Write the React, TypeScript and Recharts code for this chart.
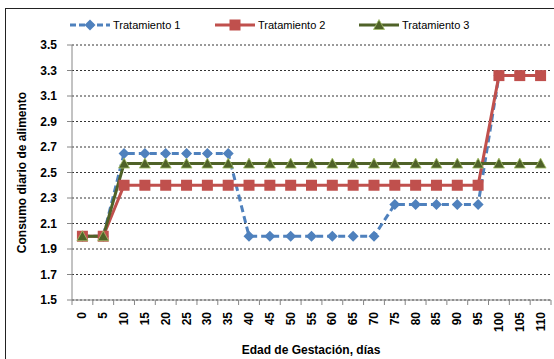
import React from "react";
import { LineChart, Line, XAxis, YAxis, CartesianGrid } from "recharts";

// Gestation age (days) and daily feed intake per treatment
const days = ["0", "5", "10", "15", "20", "25", "30", "35", "40", "45", "50", "55", "60", "65", "70", "75", "80", "85", "90", "95", "100", "105", "110"];
const tratamiento1 = [2.0, 2.0, 2.65, 2.65, 2.65, 2.65, 2.65, 2.65, 2.0, 2.0, 2.0, 2.0, 2.0, 2.0, 2.0, 2.25, 2.25, 2.25, 2.25, 2.25, 3.26, 3.26, 3.26];
const tratamiento2 = [2.0, 2.0, 2.4, 2.4, 2.4, 2.4, 2.4, 2.4, 2.4, 2.4, 2.4, 2.4, 2.4, 2.4, 2.4, 2.4, 2.4, 2.4, 2.4, 2.4, 3.26, 3.26, 3.26];
const tratamiento3 = [2.0, 2.0, 2.57, 2.57, 2.57, 2.57, 2.57, 2.57, 2.57, 2.57, 2.57, 2.57, 2.57, 2.57, 2.57, 2.57, 2.57, 2.57, 2.57, 2.57, 2.57, 2.57, 2.57];
const yTicks = [1.5, 1.7, 1.9, 2.1, 2.3, 2.5, 2.7, 2.9, 3.1, 3.3, 3.5];

const data = days.map((d, i) => ({
  dia: d,
  t1: tratamiento1[i],
  t2: tratamiento2[i],
  t3: tratamiento3[i],
}));

const W = 554;
const H = 359;
const PLOT_LEFT = 72;
const PLOT_RIGHT = 551;
const PLOT_TOP = 45;
const PLOT_BOTTOM = 300;
const BAND = (PLOT_RIGHT - PLOT_LEFT) / days.length;

const FONT = "'Liberation Sans', Arial, sans-serif";
const BLUE = "#4F81BD";
const RED = "#C0504D";
const GREEN = "#4F6228";

const Diamond = ({ cx, cy }: any) => (
  <polygon points={`${cx},${cy - 5.5} ${cx + 5.5},${cy} ${cx},${cy + 5.5} ${cx - 5.5},${cy}`} fill={BLUE} />
);
const Square = ({ cx, cy }: any) => (
  <rect x={cx - 5.5} y={cy - 5.5} width={11} height={11} fill={RED} />
);
const Triangle = ({ cx, cy }: any) => (
  <polygon
    points={`${cx},${cy - 5.5} ${cx + 5.5},${cy + 4.5} ${cx - 5.5},${cy + 4.5}`}
    fill={GREEN}
    stroke="#A6C26A"
    strokeWidth={0.8}
  />
);

// labels rotated, top-aligned, with tick marks on the category boundaries
const DayTick = ({ x, y, payload, index }: any) => (
  <g>
    <line x1={x - BAND / 2} y1={y - 8} x2={x - BAND / 2} y2={y - 3} stroke="#868686" />
    {index === days.length - 1 && (
      <line x1={x + BAND / 2} y1={y - 8} x2={x + BAND / 2} y2={y - 3} stroke="#868686" />
    )}
    <text
      x={x}
      y={y + 4}
      transform={`rotate(-90, ${x}, ${y + 4})`}
      textAnchor="end"
      dominantBaseline="central"
      fontFamily={FONT}
      fontWeight="bold"
      fontSize={12}
      fill="#000"
    >
      {payload.value}
    </text>
  </g>
);

function Legend() {
  const items = [
    { name: "Tratamiento 1", color: BLUE, x: 70, dash: "6 3", mark: "d" },
    { name: "Tratamiento 2", color: RED, x: 215, dash: undefined, mark: "s" },
    { name: "Tratamiento 3", color: GREEN, x: 359, dash: undefined, mark: "t" },
  ];
  const y = 25;
  return (
    <g>
      {items.map((it) => {
        const cx = it.x + 20;
        return (
          <g key={it.name}>
            <line x1={it.x} y1={y} x2={it.x + 40} y2={y} stroke={it.color} strokeWidth={3} strokeDasharray={it.dash} />
            {it.mark === "d" && <Diamond cx={cx} cy={y} />}
            {it.mark === "s" && <Square cx={cx} cy={y} />}
            {it.mark === "t" && <Triangle cx={cx} cy={y} />}
            <text x={it.x + 43} y={y} dominantBaseline="central" fontFamily={FONT} fontSize={11} fill="#000">
              {it.name}
            </text>
          </g>
        );
      })}
    </g>
  );
}

export default function App() {
  return (
    <div style={{ position: "absolute", left: 0, top: 0, width: W, height: H, overflow: "hidden", background: "#fff" }}>
      <div
        style={{
          position: "absolute",
          left: 5,
          top: 8,
          width: 600,
          height: 400,
          borderLeft: "1.5px solid #222",
          borderTop: "1.5px solid #222",
        }}
      />
      <LineChart
        width={W}
        height={H}
        data={data}
        margin={{ top: PLOT_TOP, right: W - PLOT_RIGHT, bottom: 0, left: 0 }}
        style={{ position: "absolute", left: 0, top: 0 }}
      >
        <CartesianGrid vertical={false} stroke="#000" strokeDasharray="2 2" strokeWidth={0.8} />
        <XAxis
          dataKey="dia"
          interval={0}
          height={H - PLOT_BOTTOM}
          padding={{ left: BAND / 2, right: BAND / 2 }}
          axisLine={{ stroke: "#868686" }}
          tickLine={false}
          tick={<DayTick />}
        />
        <YAxis
          width={PLOT_LEFT}
          domain={[1.5, 3.5]}
          ticks={yTicks}
          interval={0}
          tickFormatter={(v: number) => v.toFixed(1)}
          axisLine={{ stroke: "#868686" }}
          tickLine={{ stroke: "#868686" }}
          tickSize={5}
          tickMargin={10}
          tick={{ fontFamily: FONT, fontWeight: "bold", fontSize: 12, fill: "#000" }}
        />
        <Line dataKey="t1" stroke={BLUE} strokeWidth={3} strokeDasharray="7 4" dot={<Diamond />} activeDot={false} isAnimationActive={false} />
        <Line dataKey="t2" stroke={RED} strokeWidth={3} dot={<Square />} activeDot={false} isAnimationActive={false} />
        <Line dataKey="t3" stroke={GREEN} strokeWidth={3} dot={<Triangle />} activeDot={false} isAnimationActive={false} />
        <Legend />
        <text
          x={22}
          y={(PLOT_TOP + PLOT_BOTTOM) / 2}
          transform={`rotate(-90, 22, ${(PLOT_TOP + PLOT_BOTTOM) / 2})`}
          textAnchor="middle"
          dominantBaseline="central"
          fontFamily={FONT}
          fontWeight="bold"
          fontSize={12}
        >
          Consumo diario de alimento
        </text>
        <text x={311} y={350} textAnchor="middle" dominantBaseline="central" fontFamily={FONT} fontWeight="bold" fontSize={12}>
          Edad de Gestación, días
        </text>
      </LineChart>
    </div>
  );
}
